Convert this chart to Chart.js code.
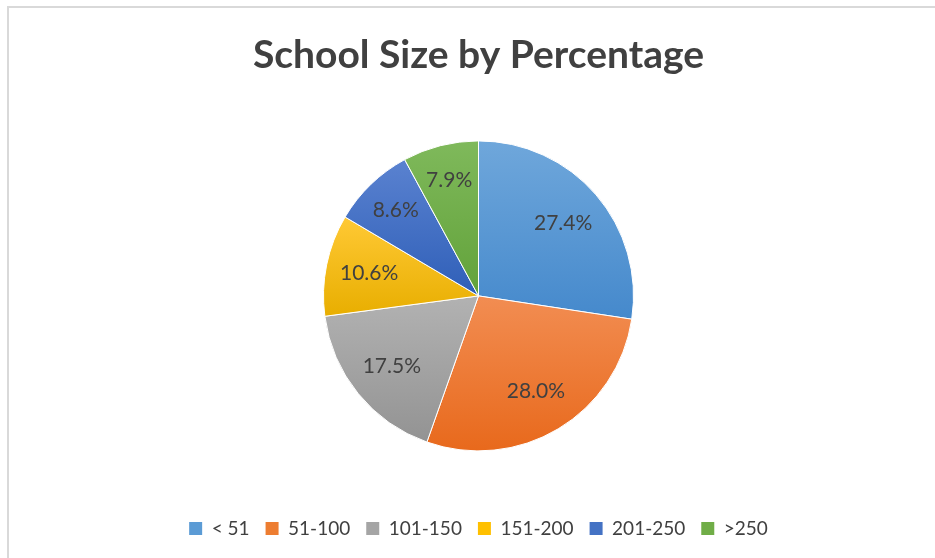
<!DOCTYPE html>
<html>
<head>
<meta charset="utf-8">
<script src="https://cdn.jsdelivr.net/npm/chart.js@4.4.1/dist/chart.umd.min.js"></script>
<style>
  html, body { margin: 0; padding: 0; background: #ffffff; }
  #wrap { position: relative; width: 935px; height: 558px; overflow: hidden; }
  #frame {
    position: absolute; left: 7px; top: 6px; width: 1000px; height: 600px;
    border-left: 2px solid #d9d9d9; border-top: 2px solid #d9d9d9;
  }
  canvas { position: absolute; left: 0; top: 0; }
</style>
</head>
<body>
<div id="wrap">
  <div id="frame"></div>
  <canvas id="schoolChart" width="935" height="558"></canvas>
</div>
<script>
const chartTitle = "School Size by Percentage";
const sizeLabels = ["< 51", "51-100", "101-150", "151-200", "201-250", ">250"];
const sizeShares = [27.4, 28.0, 17.5, 10.6, 8.6, 7.9];
const topColors = ["#6fa7db", "#f28d52", "#b2b2b2", "#ffc935", "#5a82d0", "#7fb95b"];
const bottomColors = ["#4589cc", "#e8691c", "#939393", "#e8ae00", "#2f5fb8", "#62a23a"];
const legendColors = ["#5b9bd5", "#ed7d31", "#a5a5a5", "#ffc000", "#4472c4", "#70ad47"];

const textColor = "#404040";
const pieRadius = 155;

// vertical gradient over each slice's own bounding box, like the Excel fill
function sliceGradient(context) {
  const chart = context.chart;
  const area = chart.chartArea;
  const i = context.dataIndex;
  if (!area) return legendColors[i];

  const total = sizeShares.reduce((a, b) => a + b, 0);
  let before = 0;
  for (let k = 0; k < i; k++) before += sizeShares[k];
  const a0 = -Math.PI / 2 + (2 * Math.PI * before) / total;
  const a1 = a0 + (2 * Math.PI * sizeShares[i]) / total;

  const cy = (area.top + area.bottom) / 2;
  const r = pieRadius;

  const ys = [cy, cy + r * Math.sin(a0), cy + r * Math.sin(a1)];
  [Math.PI / 2, -Math.PI / 2, (3 * Math.PI) / 2].forEach((a) => {
    if (a > a0 && a < a1) ys.push(cy + r * Math.sin(a));
  });
  const minY = Math.min(...ys);
  const maxY = Math.max(...ys);

  const grad = chart.ctx.createLinearGradient(0, minY, 0, maxY);
  grad.addColorStop(0, topColors[i]);
  grad.addColorStop(1, bottomColors[i]);
  return grad;
}

const sliceLabels = {
  id: "sliceLabels",
  afterDatasetsDraw(chart) {
    const ctx = chart.ctx;
    const meta = chart.getDatasetMeta(0);
    ctx.save();
    ctx.font = "21px Lato, 'Open Sans', sans-serif";
    ctx.fillStyle = textColor;
    ctx.textAlign = "center";
    ctx.textBaseline = "middle";
    meta.data.forEach((arc, i) => {
      const p = arc.getProps(["x", "y", "startAngle", "endAngle", "outerRadius"], true);
      const mid = (p.startAngle + p.endAngle) / 2;
      const f = sizeShares[i] < 10 ? 0.77 : 0.72;
      const x = p.x + Math.cos(mid) * p.outerRadius * f;
      const y = p.y + Math.sin(mid) * p.outerRadius * f;
      ctx.fillText(sizeShares[i].toFixed(1) + "%", x, y);
    });
    ctx.restore();
  },
};

new Chart(document.getElementById("schoolChart"), {
  type: "pie",
  data: {
    labels: sizeLabels,
    datasets: [
      {
        data: sizeShares,
        backgroundColor: sliceGradient,
        borderColor: "#ffffff",
        borderWidth: 1,
        radius: pieRadius,
      },
    ],
  },
  options: {
    responsive: false,
    animation: false,
    layout: { padding: { top: 12, left: 22, right: 0, bottom: 10 } },
    plugins: {
      title: {
        display: true,
        text: chartTitle,
        color: textColor,
        font: { family: "Lato, 'Open Sans', sans-serif", size: 39, weight: "bold" },
        padding: { top: 20, bottom: 10 },
      },
      legend: {
        position: "bottom",
        labels: {
          color: textColor,
          font: { family: "Lato, 'Open Sans', sans-serif", size: 19 },
          boxWidth: 13,
          boxHeight: 13,
          padding: 16,
          generateLabels(chart) {
            return sizeLabels.map((label, i) => ({
              text: label,
              fillStyle: legendColors[i],
              strokeStyle: legendColors[i],
              lineWidth: 0,
              fontColor: textColor,
              index: i,
            }));
          },
        },
      },
      tooltip: { enabled: false },
    },
  },
  plugins: [sliceLabels],
});
</script>
</body>
</html>
